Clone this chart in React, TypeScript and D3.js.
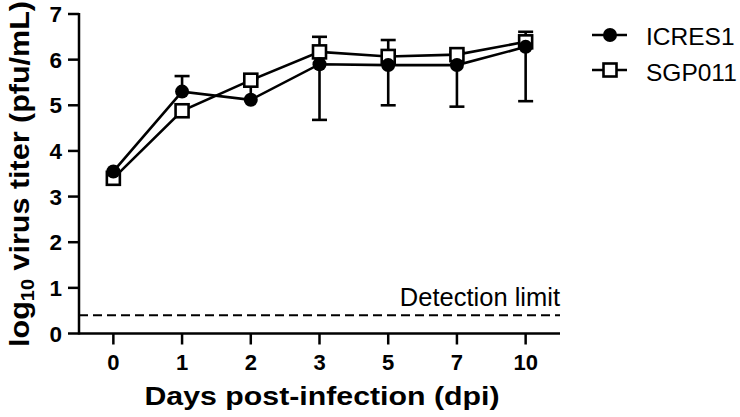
import React from "react";
import * as d3 from "d3";

const days = ["0", "1", "2", "3", "5", "7", "10"];
const yTicks = [0, 1, 2, 3, 4, 5, 6, 7];
const icres1Mean = [3.55, 5.3, 5.12, 5.9, 5.88, 5.88, 6.28];
const icres1ErrLow: (number | null)[] = [null, null, null, 4.68, 5.0, 4.97, 5.09];
const icres1ErrHigh: (number | null)[] = [null, 5.64, 5.58, null, null, null, null];
const sgp011Mean = [3.4, 4.88, 5.55, 6.17, 6.07, 6.11, 6.39];
const sgp011ErrLow: (number | null)[] = [null, null, null, null, null, null, null];
const sgp011ErrHigh: (number | null)[] = [null, null, 5.62, 6.5, 6.43, 6.16, 6.61];
const detectionLimit = 0.4;

export default function App() {
  const W = 740, H = 417;
  const x0 = 79, x1 = 560, yTop = 14, yBot = 333.5;
  const x = d3.scalePoint<string>().domain(days).range([x0, x1]).padding(0.5);
  const y = d3.scaleLinear().domain([0, 7]).range([yBot, yTop]);
  const line = d3.line<number>().x((_, i) => x(days[i])!).y((d) => y(d));
  const font = "Arial, 'Liberation Sans', sans-serif";
  const sw = 2.6;
  const cap = 7.5;

  const errBars = (lo: (number | null)[], hi: (number | null)[], mean: number[], key: string) =>
    days.map((d, i) => {
      const cx = x(d)!;
      const els: React.ReactNode[] = [];
      if (lo[i] != null) {
        els.push(<line key={key + "l" + i} x1={cx} x2={cx} y1={y(mean[i])} y2={y(lo[i]!)} stroke="#000" strokeWidth={sw} />);
        els.push(<line key={key + "lc" + i} x1={cx - cap} x2={cx + cap} y1={y(lo[i]!)} y2={y(lo[i]!)} stroke="#000" strokeWidth={sw} />);
      }
      if (hi[i] != null) {
        els.push(<line key={key + "h" + i} x1={cx} x2={cx} y1={y(mean[i])} y2={y(hi[i]!)} stroke="#000" strokeWidth={sw} />);
        els.push(<line key={key + "hc" + i} x1={cx - cap} x2={cx + cap} y1={y(hi[i]!)} y2={y(hi[i]!)} stroke="#000" strokeWidth={sw} />);
      }
      return els;
    });

  return (
    <svg width={W} height={H} style={{ position: "absolute", left: 0, top: 0 }} fontFamily={font}>
      <rect width={W} height={H} fill="#fff" />
      {/* detection limit */}
      <line x1={x0} x2={x1} y1={y(detectionLimit)} y2={y(detectionLimit)} stroke="#000" strokeWidth={2.2} strokeDasharray="9,5" />
      <text x={x1} y={306} textAnchor="end" fontSize={25.5} fill="#000">Detection limit</text>

      {/* axes */}
      <line x1={x0} x2={x1} y1={yBot} y2={yBot} stroke="#000" strokeWidth={2.5} />
      <line x1={x0} x2={x0} y1={yTop - 1} y2={yBot + 1} stroke="#000" strokeWidth={2.5} />
      {yTicks.map((t) => (
        <g key={"yt" + t}>
          <line x1={x0 - 11} x2={x0} y1={y(t)} y2={y(t)} stroke="#000" strokeWidth={2.5} />
          <text x={62} y={y(t) + 8} textAnchor="end" fontSize={22.5} fontWeight="bold">{t}</text>
        </g>
      ))}
      {days.map((d) => (
        <g key={"xt" + d}>
          <line x1={x(d)!} x2={x(d)!} y1={yBot} y2={yBot + 11} stroke="#000" strokeWidth={2.5} />
          <text x={x(d)!} y={370} textAnchor="middle" fontSize={22} fontWeight="bold">{d}</text>
        </g>
      ))}
      <text x={322} y={405} textAnchor="middle" fontSize={26} fontWeight="bold" textLength={355} lengthAdjust="spacingAndGlyphs">Days post-infection (dpi)</text>
      <text transform={`translate(29,174) rotate(-90)`} textAnchor="middle" fontSize={27.5} fontWeight="bold" textLength={346} lengthAdjust="spacingAndGlyphs">
        log<tspan fontSize={18} dy={5}>10</tspan><tspan dy={-5}> virus titer (pfu/mL)</tspan>
      </text>

      {/* series lines */}
      <path d={line(sgp011Mean)!} fill="none" stroke="#000" strokeWidth={sw} />
      <path d={line(icres1Mean)!} fill="none" stroke="#000" strokeWidth={sw} />
      {errBars(sgp011ErrLow, sgp011ErrHigh, sgp011Mean, "s")}
      {errBars(icres1ErrLow, icres1ErrHigh, icres1Mean, "i")}
      {sgp011Mean.map((v, i) => (
        <rect key={"sq" + i} x={x(days[i])! - 6.5} y={y(v) - 6.5} width={13} height={13} fill="#fff" stroke="#000" strokeWidth={sw} />
      ))}
      {icres1Mean.map((v, i) => (
        <circle key={"c" + i} cx={x(days[i])!} cy={y(v)} r={7} fill="#000" />
      ))}

      {/* legend */}
      <line x1={592} x2={627} y1={35} y2={35} stroke="#000" strokeWidth={sw} />
      <circle cx={610} cy={35} r={7} fill="#000" />
      <text x={646} y={45} fontSize={24.5} fill="#000">ICRES1</text>
      <line x1={592} x2={627} y1={70} y2={70} stroke="#000" strokeWidth={sw} />
      <rect x={610 - 6.5} y={70 - 6.5} width={13} height={13} fill="#fff" stroke="#000" strokeWidth={sw} />
      <text x={646} y={81} fontSize={24.5} fill="#000">SGP011</text>
    </svg>
  );
}
